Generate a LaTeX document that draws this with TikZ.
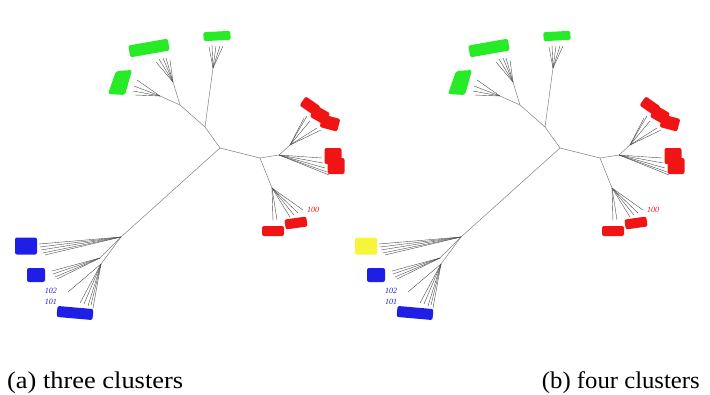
\documentclass[tikz,border=0pt]{standalone}
\usepackage{fontspec}
\setmainfont{Liberation Serif}
\definecolor{cgreen}{RGB}{40,235,40}
\definecolor{cred}{RGB}{240,20,20}
\definecolor{cblue}{RGB}{30,30,230}
\definecolor{cyellow}{RGB}{245,245,60}
\tikzset{
  br/.style={draw=black!50, line width=0.5pt},
  fanl/.style={draw=black!70, line width=0.4pt},
  blob/.style={fill=#1, draw=none, rounded corners=2pt, inner sep=0pt},
  captext/.style={font=\fontsize{24}{28}\selectfont, inner sep=0pt},
  lbl/.style={font=\fontsize{8}{9}\selectfont\itshape, inner sep=0pt},
}
\newcommand\fan[3]{%
  \foreach \x/\y [count=\k] in {#3} {\coordinate (#2\k) at (\x,\y); \draw[fanl] (#1) -- (#2\k);}}
\newcommand\phylo[1]{%
  \coordinate (A) at (220,148);
  \coordinate (B) at (205,127);
  \coordinate (C) at (180,105);
  \coordinate (T) at (213,68);
  \coordinate (C1) at (173,82);
  \coordinate (C2) at (160,96);
  \coordinate (D) at (260,158);
  \coordinate (E) at (279,155);
  \coordinate (E1) at (290,145);
  \coordinate (F) at (272,188);
  \coordinate (G) at (121,237);
  \coordinate (Gm) at (100,258);
  \coordinate (Gb) at (101,264);
  \draw[br] (A) -- (B) -- (C);
  \draw[br] (B) -- (T);
  \draw[br] (C) -- (C1);
  \draw[br] (C) -- (C2);
  \draw[br] (A) -- (D) -- (E) -- (E1);
  \draw[br] (D) -- (F);
  \draw[br] (A) -- (G) -- (Gm);
  \draw[br] (G) -- (Gb);
  % green fans
  \fan{T}{tg}{209/47,212/45,216/46,220/46,223/46}
  \fan{C1}{ug}{156/62,159/59,163/58,166/58,170/60}
  \fan{C2}{lg}{137/80,134/86,133/91,135/95}
  % red fans
  \fan{E1}{tr}{304/118,307/116,310/121,317/128,321/130}
  \fan{E}{rr}{322/158,323/163,325/168,327/172,329/175}
  \fan{F}{lr}{273/221,277/220,290/217,294/215,298/213,303/210}
  % blue fans
  \fan{G}{tb}{39/244,40/247,41/250,43/253,45/255}
  \fan{Gm}{mb}{52/271,53/274,55/277,57/279}
  \fan{Gb}{bb}{68/292,80/303,84/304,88/306,91/305,93/308}
  % blobs
  \node[blob=cgreen, minimum width=27pt, minimum height=9pt, rotate=3] (bg1) at (217,36) {};
  \node[blob=cgreen, minimum width=40pt, minimum height=12pt, rotate=10] (bg2) at (149,48) {};
  \fill[cgreen, rounded corners=2pt] (116,71) -- (132,70) -- (125,95) -- (108,94) -- cycle;
  \node[blob=cred, minimum width=18pt, minimum height=11pt, rotate=-35] (br1a) at (310,106) {};
  \node[blob=cred, minimum width=16pt, minimum height=13pt, rotate=-30] (br1b) at (320,115) {};
  \node[blob=cred, minimum width=18pt, minimum height=13pt, rotate=-15] (br1c) at (330,123) {};
  \node[blob=cred, minimum width=17pt, minimum height=16pt] (br2a) at (333,156) {};
  \node[blob=cred, minimum width=17pt, minimum height=16pt] (br2b) at (336,166) {};
  \node[blob=cred, minimum width=22pt, minimum height=10pt] (br3) at (273,231) {};
  \node[blob=cred, minimum width=22pt, minimum height=10pt, rotate=8] (br4) at (296,223) {};
  \node[blob=#1, minimum width=22pt, minimum height=17pt] (bb1) at (26,246) {};
  \node[blob=cblue, minimum width=18pt, minimum height=14pt] (bb2) at (36,275) {};
  \node[blob=cblue, minimum width=36pt, minimum height=11pt, rotate=-5] (bb3) at (75,313) {};
  \node[lbl, text=cred] (l100) at (313,210) {100};
  \node[lbl, text=cblue] (l102) at (51,291) {102};
  \node[lbl, text=cblue] (l101) at (51,302) {101};
}
\begin{document}
\begin{tikzpicture}[x=1pt, y=-1pt]
  \useasboundingbox (0,0) rectangle (710,394);
  \begin{scope}[name prefix=L-]
    \phylo{cblue}
  \end{scope}
  \begin{scope}[shift={(340,0)}, name prefix=R-]
    \phylo{cyellow}
  \end{scope}
  \node[captext, anchor=base west] (capa) at (7,388) {\scalebox{1.1}[1]{(a) three clusters}};
  \node[captext, anchor=base east] (capb) at (700,388) {\scalebox{1.03}[1]{(b) four clusters}};
\end{tikzpicture}
\end{document}
